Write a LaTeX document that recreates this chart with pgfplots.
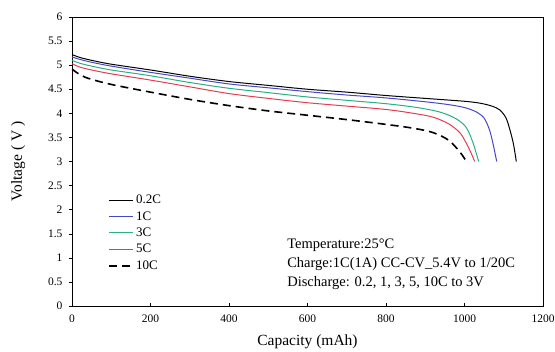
\documentclass[border=0pt]{standalone}
\usepackage{pgfplots}
\pgfplotsset{compat=1.18}
\usepackage{fontspec}
\setmainfont{Liberation Serif}
\definecolor{cblue}{RGB}{70,70,200}
\definecolor{cgreen}{RGB}{40,175,130}
\definecolor{cred}{RGB}{230,60,80}
\begin{document}
\begin{tikzpicture}
\useasboundingbox (0,0) rectangle (555pt,352pt);
\begin{axis}[
  at={(72pt,46pt)}, anchor=south west,
  scale only axis, width=471pt, height=289pt,
  xmin=0, xmax=1200, ymin=0, ymax=6,
  xtick={0,200,...,1200}, ytick={0,0.5,...,6},
  yticklabels={0,0.5,1,1.5,2,2.5,3,3.5,4,4.5,5,5.5,6},
  /pgf/number format/1000 sep={},
  /pgf/number format/assume math mode=true,
  ticklabel style={font=\fontsize{11.5}{13}\selectfont},
  xticklabel style={yshift=-5pt},
  yticklabel style={xshift=-3pt},
  xtick pos=bottom, ytick pos=left,
  x tick style={black, thin}, y tick style={black,thin},
  ytick align=outside, xtick align=inside,
  major tick length=3pt,
  axis line style={black, line width=0.8pt},
  xlabel={Capacity (mAh)}, ylabel={Voltage ( V )},
  label style={font=\fontsize{15.5}{17}\selectfont},
  xlabel style={yshift=-6pt},
  ylabel style={yshift=16pt},
  legend style={draw=none, fill=none, at={(axis description cs:0.075,0.395)}, anchor=north west,
    font=\fontsize{13}{14}\selectfont, row sep=2.3pt, inner sep=1pt},
  legend cell align=left,
  legend image code/.code={\draw[#1] (0pt,0pt) -- (24pt,0pt);},
]
\addplot[black, line width=1pt, smooth] coordinates {(0,5.22)(20,5.16)(50,5.10)(100,5.02)(200,4.90)(300,4.77)(400,4.66)(500,4.58)(600,4.50)(700,4.44)(800,4.37)(900,4.31)(1000,4.25)(1040,4.21)(1070,4.15)(1090,4.07)(1106,3.90)(1117,3.62)(1125,3.35)(1132,3.0)};
\addlegendentry{0.2C}
\addplot[cblue, line width=1pt, smooth] coordinates {(0,5.17)(20,5.12)(50,5.06)(100,4.98)(200,4.85)(300,4.73)(400,4.61)(500,4.53)(600,4.45)(700,4.38)(800,4.32)(900,4.24)(960,4.18)(1000,4.12)(1030,4.03)(1050,3.90)(1064,3.65)(1074,3.32)(1082,3.0)};
\addlegendentry{1C}
\addplot[cgreen, line width=1pt, smooth] coordinates {(0,5.10)(20,5.04)(50,4.98)(100,4.90)(200,4.78)(300,4.64)(400,4.52)(500,4.43)(600,4.34)(700,4.27)(800,4.20)(880,4.12)(940,4.02)(980,3.88)(1005,3.70)(1022,3.38)(1036,3.0)};
\addlegendentry{3C}
\addplot[cred, line width=1pt, smooth] coordinates {(0,5.03)(20,4.96)(50,4.90)(100,4.82)(200,4.69)(300,4.55)(400,4.41)(500,4.31)(600,4.22)(700,4.15)(800,4.08)(870,4.00)(920,3.92)(960,3.78)(990,3.58)(1012,3.26)(1026,3.0)};
\addlegendentry{5C}
\addplot[black, line width=1.6pt, dash pattern=on 8pt off 5pt, smooth] coordinates {(0,4.92)(15,4.83)(40,4.73)(100,4.60)(200,4.44)(300,4.29)(400,4.16)(500,4.05)(600,3.96)(700,3.87)(800,3.77)(870,3.69)(920,3.60)(960,3.44)(988,3.20)(1005,3.0)};
\addlegendentry{10C}
\node[anchor=west, font=\fontsize{14.5}{16}\selectfont, inner sep=0pt] at (axis cs:548,1.27) {Temperature:25°C};
\node[anchor=west, font=\fontsize{14.5}{16}\selectfont, inner sep=0pt] at (axis cs:548,0.875) {Charge:1C(1A) CC-CV\_5.4V to 1/20C};
\node[anchor=west, font=\fontsize{14.5}{16}\selectfont, inner sep=0pt] at (axis cs:548,0.48) {Discharge: 0.2, 1, 3, 5, 10C to 3V};
\end{axis}
\end{tikzpicture}
\end{document}
